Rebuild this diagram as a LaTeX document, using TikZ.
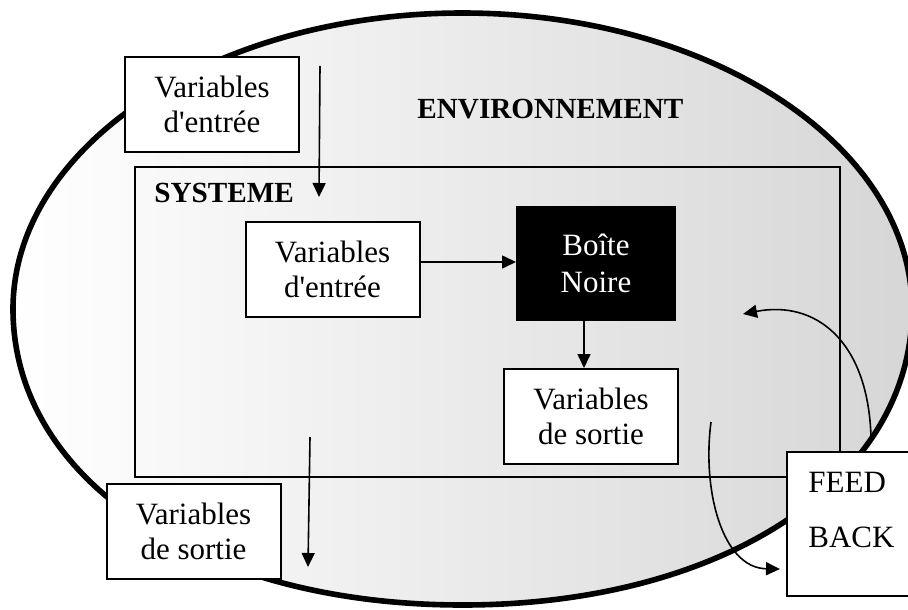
\documentclass[tikz,border=0pt]{standalone}
\usepackage{fontspec}
\setmainfont{Liberation Serif}[Ligatures=TeXOff]
\usetikzlibrary{arrows.meta}
\newcommand\boxfont{\fontsize{15.5}{17.8}\selectfont}
\newcommand\headfont{\fontsize{14.6}{17}\selectfont\bfseries}
\begin{document}
\begin{tikzpicture}[x=0.5pt,y=-0.5pt,
  box/.style={draw, line width=1pt, fill=white, inner sep=0pt, align=center,
    font=\boxfont, minimum width=87pt, minimum height=47.5pt},
  arr/.style={-{Triangle[length=7pt,width=6.5pt]}, line width=0.8pt},
  lbl/.style={anchor=base west, inner sep=0pt},
]
\useasboundingbox (0,0) rectangle (908,609);
\clip (0,0) rectangle (908,609);

% environment
\path[draw, line width=2.8pt, left color=white, right color=black!16]
  (13,309) .. controls (13,145.5) and (214.2,13) .. (462.5,13)
  .. controls (710.8,13) and (912,145.5) .. (912,309)
  .. controls (912,480.7) and (723.2,605) .. (462.5,605)
  .. controls (201.8,605) and (13,480.7) .. (13,309) -- cycle;
\node[lbl, font=\headfont] (env) at (417,119) {ENVIRONNEMENT};

% system
\node[draw, line width=1pt, inner sep=0pt, minimum width=352.5pt,
  minimum height=155pt] (sys) at (487.5,322) {};
\node[lbl, font=\headfont] (syslbl) at (154,202) {SYSTEME};

% boxes
\node[box] (inext) at (212,104.5) {Variables\\d'entrée};
\node[box] (inint) at (332.5,269.5) {Variables\\d'entrée};
\node[box, fill=black, text=white, minimum width=79pt, minimum height=56.5pt,
  font=\fontsize{15.5}{18.8}\selectfont] (bb) at (596,263.5) {Boîte\\Noire};
\node[box] (outint) at (591,416.5) {Variables\\de sortie};
\node[box] (outext) at (193.5,531.5) {Variables\\de sortie};

% arrows
\coordinate (inA) at (320,66);
\coordinate (inB) at (319,197);
\coordinate (rowIn) at (0,262);
\coordinate (colOut) at (584,0);
\coordinate (outA) at (310,437);
\coordinate (outB) at (308,567);
\draw[arr] (inA) -- (inB);
\draw[arr] (inint.east |- rowIn) -- (bb.west |- rowIn);
\draw[arr] (bb.south -| colOut) -- (outint.north -| colOut);
\draw[arr] (outA) -- (outB);

% feedback
\coordinate (fbA) at (871,437);
\coordinate (fbB) at (743,314);
\coordinate (fbC) at (711,422);
\coordinate (fbD) at (780,569);
\draw[arr] (fbA) .. controls (868,340) and (815,300) .. (fbB);
\draw[arr] (fbC) .. controls (702,490) and (722,568) .. (fbD);
\node[box, minimum width=64pt, minimum height=72pt] (fb) at (851,524) {};
\node[lbl, font=\boxfont] (fb1) at (808,492) {FEED};
\node[lbl, font=\boxfont] (fb2) at (808,547) {BACK};
\end{tikzpicture}
\end{document}
